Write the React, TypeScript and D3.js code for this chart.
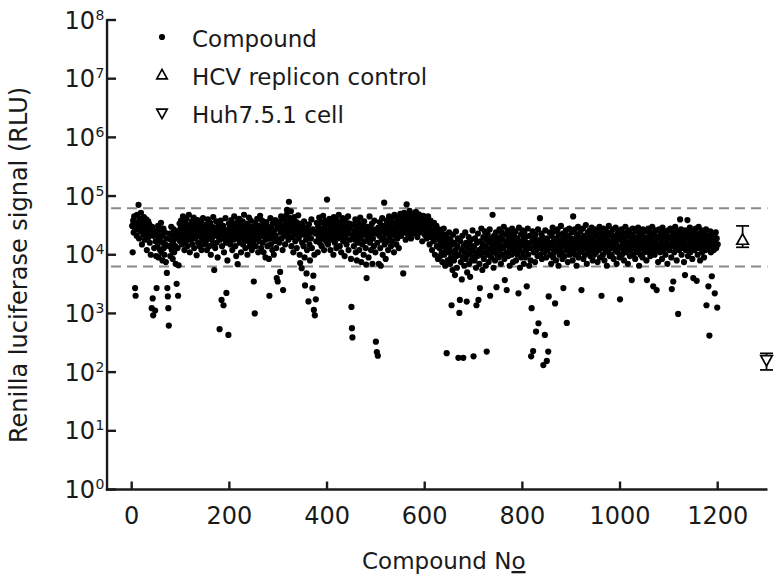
import React from 'react';
import * as d3 from 'd3';

// Renilla luciferase signal (RLU) per compound, compounds 1..1200 in order
const signal_0001_0200 = [
  31e3, 11e3, 38e3, 24e3, 45e3, 29e3, 2.7e3, 2.0e3, 34e3, 21e3,
  48e3, 27e3, 36e3, 71e3, 19e3, 41e3, 30e3, 25e3, 52e3, 33e3,
  15e3, 39e3, 28e3, 22e3, 44e3, 31e3, 18e3, 35e3, 26e3, 40e3,
  12e3, 29e3, 23e3, 37e3, 20e3, 33e3, 16e3, 27e3, 10e3, 24e3,
  1.23e3, 30e3, 1.8e3, 930, 21e3, 13e3, 26e3, 1.12e3, 17e3, 9.5e3,
  2.7e3, 22e3, 14e3, 31e3, 9e3, 19e3, 26e3, 12e3, 17e3, 35e3,
  11e3, 21e3, 8e3, 16e3, 28e3, 13e3, 10e3, 24e3, 15e3, 7.5e3,
  19e3, 4.9e3, 2.7e3, 1.95e3, 1.23e3, 620, 14e3, 23e3, 9.5e3, 18e3,
  30e3, 12e3, 20e3, 8.5e3, 16e3, 27e3, 11e3, 22e3, 14e3, 7e3,
  19e3, 3.2e3, 25e3, 13e3, 2.0e3, 6.6e3, 21e3, 34e3, 17e3, 28e3,
  38e3, 24e3, 15e3, 31e3, 45e3, 19e3, 27e3, 12e3, 35e3, 22e3,
  17e3, 41e3, 26e3, 14e3, 30e3, 20e3, 48e3, 23e3, 11e3, 33e3,
  18e3, 28e3, 37e3, 15e3, 25e3, 21e3, 43e3, 13e3, 29e3, 19e3,
  34e3, 24e3, 9.8e3, 26e3, 39e3, 16e3, 22e3, 31e3, 14e3, 27e3,
  20e3, 36e3, 12e3, 25e3, 18e3, 42e3, 23e3, 15e3, 30e3, 21e3,
  26e3, 17e3, 33e3, 12e3, 24e3, 40e3, 19e3, 28e3, 14e3, 22e3,
  35e3, 10e3, 25e3, 18e3, 30e3, 15e3, 44e3, 21e3, 5.5e3, 27e3,
  13e3, 23e3, 37e3, 16e3, 29e3, 9e3, 20e3, 32e3, 24e3, 540,
  18e3, 38e3, 26e3, 1.7e3, 14e3, 22e3, 31e3, 1.38e3, 11e3, 27e3,
  19e3, 42e3, 16e3, 2.24e3, 25e3, 8e3, 21e3, 430, 34e3, 17e3,
];
const signal_0201_0400 = [
  29e3, 15e3, 24e3, 39e3, 20e3, 12e3, 33e3, 26e3, 18e3, 45e3,
  22e3, 14e3, 30e3, 9.5e3, 27e3, 36e3, 6.9e3, 19e3, 25e3, 41e3,
  16e3, 23e3, 31e3, 11e3, 28e3, 20e3, 37e3, 15e3, 24e3, 48e3,
  18e3, 29e3, 13e3, 34e3, 21e3, 26e3, 10e3, 32e3, 17e3, 43e3,
  23e3, 14e3, 28e3, 38e3, 19e3, 12e3, 25e3, 30e3, 16e3, 3.5e3,
  22e3, 1.0e3, 35e3, 14e3, 27e3, 19e3, 41e3, 24e3, 11e3, 31e3,
  17e3, 26e3, 46e3, 21e3, 13e3, 29e3, 38e3, 16e3, 23e3, 11e3,
  33e3, 20e3, 27e3, 9e3, 18e3, 36e3, 25e3, 14e3, 30e3, 22e3,
  8.5e3, 2.0e3, 19e3, 42e3, 15e3, 28e3, 24e3, 12e3, 34e3, 20e3,
  10e3, 26e3, 17e3, 39e3, 21e3, 13e3, 4.0e3, 31e3, 3.5e3, 18e3,
  28e3, 16e3, 37e3, 5.1e3, 24e3, 45e3, 19e3, 31e3, 12e3, 2.5e3,
  26e3, 40e3, 21e3, 15e3, 33e3, 27e3, 48e3, 58e3, 22e3, 35e3,
  18e3, 80e3, 29e3, 42e3, 25e3, 55e3, 14e3, 32e3, 20e3, 38e3,
  11e3, 27e3, 44e3, 23e3, 17e3, 30e3, 36e3, 13e3, 26e3, 21e3,
  47e3, 19e3, 34e3, 10e3, 7.2e3, 28e3, 24e3, 5.9e3, 16e3, 31e3,
  22e3, 14e3, 37e3, 9e3, 3.0e3, 26e3, 18e3, 4.8e3, 12e3, 29e3,
  21e3, 1.6e3, 33e3, 15e3, 8e3, 24e3, 19e3, 40e3, 13e3, 2.7e3,
  27e3, 4.4e3, 1.15e3, 10e3, 930, 23e3, 1.74e3, 17e3, 35e3, 25e3,
  11e3, 30e3, 20e3, 43e3, 16e3, 28e3, 22e3, 36e3, 14e3, 26e3,
  19e3, 46e3, 24e3, 12e3, 32e3, 21e3, 38e3, 17e3, 27e3, 87e3,
];
const signal_0401_0600 = [
  24e3, 15e3, 34e3, 20e3, 41e3, 28e3, 12e3, 23e3, 37e3, 18e3,
  30e3, 25e3, 10e3, 44e3, 21e3, 16e3, 33e3, 27e3, 13e3, 39e3,
  22e3, 19e3, 31e3, 48e3, 26e3, 14e3, 35e3, 20e3, 11e3, 29e3,
  24e3, 42e3, 17e3, 32e3, 22e3, 9.5e3, 27e3, 38e3, 19e3, 15e3,
  30e3, 25e3, 45e3, 12e3, 23e3, 34e3, 18e3, 28e3, 8.5e3, 1.29e3,
  560, 390, 21e3, 33e3, 14e3, 26e3, 18e3, 40e3, 11e3, 23e3,
  8e3, 29e3, 16e3, 35e3, 20e3, 12e3, 27e3, 43e3, 19e3, 7.5e3,
  24e3, 15e3, 31e3, 22e3, 10e3, 37e3, 17e3, 26e3, 13e3, 6.8e3,
  4.0e3, 21e3, 30e3, 18e3, 9e3, 25e3, 45e3, 16e3, 28e3, 12e3,
  22e3, 34e3, 7e3, 19e3, 27e3, 14e3, 38e3, 23e3, 11e3, 330,
  24e3, 220, 16e3, 190, 29e3, 7e3, 21e3, 36e3, 13e3, 6.5e3,
  25e3, 18e3, 42e3, 10e3, 31e3, 20e3, 77e3, 15e3, 27e3, 8.5e3,
  23e3, 38e3, 17e3, 33e3, 12e3, 26e3, 45e3, 19e3, 30e3, 22e3,
  14e3, 40e3, 28e3, 17e3, 35e3, 24e3, 11e3, 48e3, 21e3, 31e3,
  26e3, 15e3, 43e3, 19e3, 37e3, 29e3, 13e3, 34e3, 23e3, 50e3,
  33e3, 21e3, 45e3, 27e3, 38e3, 4.8e3, 30e3, 52e3, 24e3, 41e3,
  18e3, 35e3, 72e3, 28e3, 47e3, 22e3, 39e3, 31e3, 56e3, 26e3,
  43e3, 19e3, 34e3, 50e3, 29e3, 37e3, 23e3, 46e3, 32e3, 40e3,
  25e3, 54e3, 30e3, 36e3, 20e3, 44e3, 27e3, 49e3, 33e3, 38e3,
  24e3, 42e3, 29e3, 35e3, 17e3, 31e3, 46e3, 26e3, 39e3, 22e3,
];
const signal_0601_0800 = [
  36e3, 28e3, 41e3, 19e3, 32e3, 25e3, 45e3, 22e3, 30e3, 15e3,
  27e3, 38e3, 20e3, 33e3, 12e3, 24e3, 29e3, 17e3, 35e3, 21e3,
  10e3, 26e3, 18e3, 31e3, 14e3, 23e3, 8.5e3, 19e3, 27e3, 13e3,
  21e3, 9.5e3, 16e3, 25e3, 11e3, 7.5e3, 20e3, 14e3, 28e3, 10e3,
  17e3, 6.5e3, 22e3, 12e3, 210, 15e3, 8e3, 19e3, 11e3, 24e3,
  13e3, 7e3, 18e3, 9e3, 1.38e3, 15e3, 5.5e3, 22e3, 11e3, 8e3,
  16e3, 4.5e3, 12e3, 25e3, 9.5e3, 6e3, 14e3, 19e3, 175, 10e3,
  1.02e3, 1.7e3, 17e3, 7.5e3, 12e3, 3.8e3, 21e3, 9e3, 175, 14e3,
  6.5e3, 11e3, 24e3, 8.5e3, 16e3, 1.59e3, 5e3, 13e3, 10e3, 20e3,
  7e3, 15e3, 4.2e3, 11e3, 18e3, 8e3, 12e3, 26e3, 9e3, 186,
  14e3, 8e3, 19e3, 11e3, 6e3, 1.38e3, 16e3, 9.5e3, 23e3, 1.7e3,
  12e3, 7e3, 2.7e3, 17e3, 10e3, 28e3, 13e3, 5.5e3, 15e3, 20e3,
  8.5e3, 11e3, 25e3, 14e3, 6.5e3, 18e3, 224, 10e3, 22e3, 12e3,
  7.5e3, 16e3, 27e3, 2.0e3, 13e3, 9e3, 19e3, 11e3, 48e3, 15e3,
  6e3, 21e3, 12e3, 8e3, 17e3, 24e3, 2.8e3, 10e3, 14e3, 19e3,
  9e3, 16e3, 27e3, 12e3, 20e3, 7e3, 14e3, 24e3, 10e3, 18e3,
  13e3, 30e3, 8.5e3, 3.7e3, 15e3, 22e3, 11e3, 2.5e3, 17e3, 26e3,
  9.5e3, 14e3, 19e3, 6.5e3, 12e3, 23e3, 16e3, 10e3, 28e3, 13e3,
  7.5e3, 18e3, 21e3, 11e3, 15e3, 25e3, 8e3, 13e3, 19e3, 10e3,
  16e3, 2.2e3, 29e3, 12e3, 6e3, 14e3, 22e3, 9e3, 17e3, 26e3,
];
const signal_0801_1000 = [
  11e3, 18e3, 7e3, 24e3, 14e3, 9e3, 20e3, 12e3, 2.9e3, 16e3,
  28e3, 10e3, 15e3, 6.5e3, 21e3, 13e3, 8e3, 186, 1.23e3, 17e3,
  25e3, 229, 11e3, 19e3, 14e3, 7.5e3, 22e3, 490, 12e3, 16e3,
  9.5e3, 27e3, 680, 13e3, 18e3, 42e3, 10e3, 15e3, 23e3, 8.5e3,
  20e3, 12e3, 132, 17e3, 11e3, 430, 26e3, 14e3, 9e3, 155,
  19e3, 12e3, 224, 1.95e3, 16e3, 24e3, 10e3, 14e3, 7e3, 21e3,
  13e3, 29e3, 9e3, 17e3, 11e3, 25e3, 1.48e3, 15e3, 8e3, 19e3,
  12e3, 27e3, 14e3, 6.5e3, 22e3, 10e3, 16e3, 13e3, 31e3, 11e3,
  18e3, 8.5e3, 23e3, 2.7e3, 15e3, 20e3, 9.5e3, 14e3, 26e3, 12e3,
  690, 17e3, 7.5e3, 21e3, 13e3, 28e3, 10e3, 16e3, 19e3, 11e3,
  24e3, 14e3, 8e3, 45e3, 17e3, 12e3, 27e3, 10e3, 19e3, 15e3,
  6.5e3, 22e3, 13e3, 30e3, 9e3, 16e3, 20e3, 11e3, 25e3, 14e3,
  2.5e3, 18e3, 12e3, 28e3, 8.5e3, 15e3, 21e3, 10e3, 17e3, 32e3,
  13e3, 7e3, 19e3, 24e3, 11e3, 16e3, 14e3, 26e3, 9.5e3, 20e3,
  12e3, 29e3, 15e3, 8e3, 18e3, 23e3, 10e3, 13e3, 27e3, 16e3,
  11e3, 21e3, 14e3, 7.5e3, 25e3, 17e3, 12e3, 30e3, 9e3, 19e3,
  15e3, 2.0e3, 23e3, 13e3, 10e3, 28e3, 16e3, 8e3, 20e3, 12e3,
  26e3, 14e3, 6.5e3, 18e3, 22e3, 11e3, 31e3, 15e3, 9.5e3, 17e3,
  24e3, 13e3, 10e3, 21e3, 16e3, 27e3, 8.5e3, 14e3, 19e3, 12e3,
  29e3, 15e3, 7e3, 22e3, 11e3, 18e3, 25e3, 13e3, 9e3, 1.74e3,
];
const signal_1001_1200 = [
  20e3, 14e3, 27e3, 10e3, 17e3, 23e3, 12e3, 8e3, 19e3, 15e3,
  30e3, 11e3, 16e3, 24e3, 13e3, 7e3, 21e3, 14e3, 26e3, 9.5e3,
  18e3, 12e3, 22e3, 3.7e3, 16e3, 28e3, 10e3, 15e3, 20e3, 13e3,
  8.5e3, 25e3, 17e3, 11e3, 19e3, 14e3, 29e3, 12e3, 6.5e3, 22e3,
  16e3, 10e3, 24e3, 13e3, 18e3, 9e3, 27e3, 15e3, 20e3, 11e3,
  17e3, 25e3, 13e3, 8e3, 3.7e3, 19e3, 14e3, 28e3, 11e3, 21e3,
  16e3, 9.5e3, 24e3, 13e3, 18e3, 30e3, 12e3, 2.9e3, 15e3, 22e3,
  10e3, 17e3, 26e3, 14e3, 2.5e3, 20e3, 12e3, 7.5e3, 19e3, 27e3,
  15e3, 11e3, 23e3, 13e3, 18e3, 8.5e3, 29e3, 16e3, 12e3, 21e3,
  14e3, 25e3, 10e3, 17e3, 22e3, 13e3, 7e3, 19e3, 26e3, 15e3,
  12e3, 20e3, 28e3, 14e3, 9e3, 2.6e3, 18e3, 24e3, 3.5e3, 16e3,
  11e3, 22e3, 30e3, 13e3, 19e3, 8e3, 25e3, 15e3, 980, 21e3,
  12e3, 17e3, 40e3, 14e3, 27e3, 10e3, 20e3, 16e3, 23e3, 13e3,
  7.5e3, 18e3, 4.5e3, 26e3, 12e3, 21e3, 15e3, 39e3, 9.5e3, 19e3,
  24e3, 14e3, 29e3, 11e3, 17e3, 22e3, 13e3, 8.5e3, 20e3, 4.0e3,
  16e3, 25e3, 12e3, 19e3, 28e3, 14e3, 3.6e3, 21e3, 10e3, 17e3,
  30e3, 13e3, 23e3, 8e3, 18e3, 15e3, 26e3, 11e3, 20e3, 14e3,
  24e3, 9e3, 17e3, 22e3, 12e3, 27e3, 1.38e3, 16e3, 19e3, 13e3,
  2.9e3, 21e3, 420, 15e3, 25e3, 11e3, 18e3, 4.3e3, 14e3, 23e3,
  17e3, 12e3, 20e3, 2.2e3, 16e3, 24e3, 13e3, 19e3, 1.26e3, 15e3,
];

// Controls
const controlNames = ['HCV replicon control', 'Huh7.5.1 cell'];
const controlCompoundNo = [1251, 1300];
const controlMean = [17800, 162];
const controlLow = [13400, 109];
const controlHigh = [31000, 209];

// Threshold (dashed) lines
const thresholdValues = [62000, 6300];

// Axes
const xTicks = [0, 200, 400, 600, 800, 1000, 1200];
const yTickExponents = [0, 1, 2, 3, 4, 5, 6, 7, 8];
const legendLabels = ['Compound', 'HCV replicon control', 'Huh7.5.1 cell'];

const FONT = "'DejaVu Sans', 'Liberation Sans', sans-serif";
const INK = '#1a1a1a';

export default function App() {
  const signals = [
    ...signal_0001_0200,
    ...signal_0201_0400,
    ...signal_0401_0600,
    ...signal_0601_0800,
    ...signal_0801_1000,
    ...signal_1001_1200,
  ];

  const x = d3.scaleLinear().domain([0, 1200]).range([131.7, 717.7]);
  const y = d3.scaleLog().domain([1, 1e8]).range([489.5, 20]);

  const axisLeftX = x(-50.5);
  const axisRightX = x(1302);
  const axisBottomY = y(1);

  const upTri = (s: number) => `M0,${-s * 0.62}L${s * 0.58},${s * 0.42}L${-s * 0.58},${s * 0.42}Z`;
  const downTri = (s: number) => `M0,${s * 0.62}L${s * 0.58},${-s * 0.42}L${-s * 0.58},${-s * 0.42}Z`;

  return (
    <svg
      width={781}
      height={583}
      viewBox="0 0 781 583"
      style={{ position: 'absolute', left: 0, top: 0, background: '#fff' }}
      fontFamily={FONT}
    >
      <rect x={0} y={0} width={781} height={583} fill="#fff" />

      {/* threshold lines */}
      {thresholdValues.map((v, i) => (
        <line
          key={'th' + i}
          x1={axisLeftX + 4}
          x2={axisRightX}
          y1={y(v)}
          y2={y(v)}
          stroke="#8a8a8a"
          strokeWidth={2}
          strokeDasharray="10,6"
        />
      ))}

      {/* compounds */}
      <g fill="#000">
        {signals.map((v, i) => (
          <circle key={i} cx={x(i + 1)} cy={y(v)} r={3.1} />
        ))}
      </g>

      {/* controls */}
      {controlNames.map((name, i) => {
        const cx = x(controlCompoundNo[i]);
        const yl = y(controlLow[i]);
        const yh = y(controlHigh[i]);
        const ym = y(controlMean[i]);
        return (
          <g key={name} stroke="#000" strokeWidth={1.7} fill="#fff">
            <line x1={cx} x2={cx} y1={yl} y2={yh} />
            <line x1={cx - 6.5} x2={cx + 6.5} y1={yl} y2={yl} />
            <line x1={cx - 6.5} x2={cx + 6.5} y1={yh} y2={yh} />
            <path d={i === 0 ? upTri(10) : downTri(10)} transform={`translate(${cx},${ym})`} />
          </g>
        );
      })}

      {/* axes */}
      <g stroke={INK} strokeWidth={2.4} fill="none">
        <line x1={axisLeftX} x2={axisLeftX} y1={y(1e8) - 1} y2={axisBottomY + 1.2} />
        <line x1={axisLeftX - 1.2} x2={axisRightX} y1={axisBottomY} y2={axisBottomY} />
        {yTickExponents.map((e) => (
          <line key={'yt' + e} x1={axisLeftX} x2={axisLeftX + 9} y1={y(10 ** e)} y2={y(10 ** e)} />
        ))}
        {xTicks.map((t) => (
          <line key={'xt' + t} x1={x(t)} x2={x(t)} y1={axisBottomY} y2={axisBottomY - 8} />
        ))}
      </g>

      {/* y tick labels */}
      <g fill={INK}>
        {yTickExponents.map((e) => (
          <g key={'yl' + e}>
            <text x={95} y={y(10 ** e) + 8.5} textAnchor="end" fontSize={24}>10</text>
            <text x={95.5} y={y(10 ** e) - 0.5} textAnchor="start" fontSize={14}>{e}</text>
          </g>
        ))}
      </g>

      {/* x tick labels */}
      <g fill={INK}>
        {xTicks.map((t) => (
          <text key={'xl' + t} x={x(t)} y={524} textAnchor="middle" fontSize={24}>{t}</text>
        ))}
      </g>

      {/* axis titles */}
      <text x={362} y={569} fontSize={23} fill={INK}>
        Compound N<tspan style={{ textDecoration: 'underline' }}>o</tspan>
      </text>
      <text
        transform="translate(27,265) rotate(-90)"
        textAnchor="middle"
        fontSize={24}
        fill={INK}
      >
        Renilla luciferase signal (RLU)
      </text>

      {/* legend */}
      <g>
        <circle cx={162} cy={37} r={3.1} fill="#000" />
        <path d={upTri(9)} transform="translate(162,75)" fill="#fff" stroke="#000" strokeWidth={1.7} />
        <path d={downTri(9)} transform="translate(162,113)" fill="#fff" stroke="#000" strokeWidth={1.7} />
        {legendLabels.map((l, i) => (
          <text key={l} x={192} y={46.5 + i * 38} fontSize={23} fill={INK}>{l}</text>
        ))}
      </g>
    </svg>
  );
}
